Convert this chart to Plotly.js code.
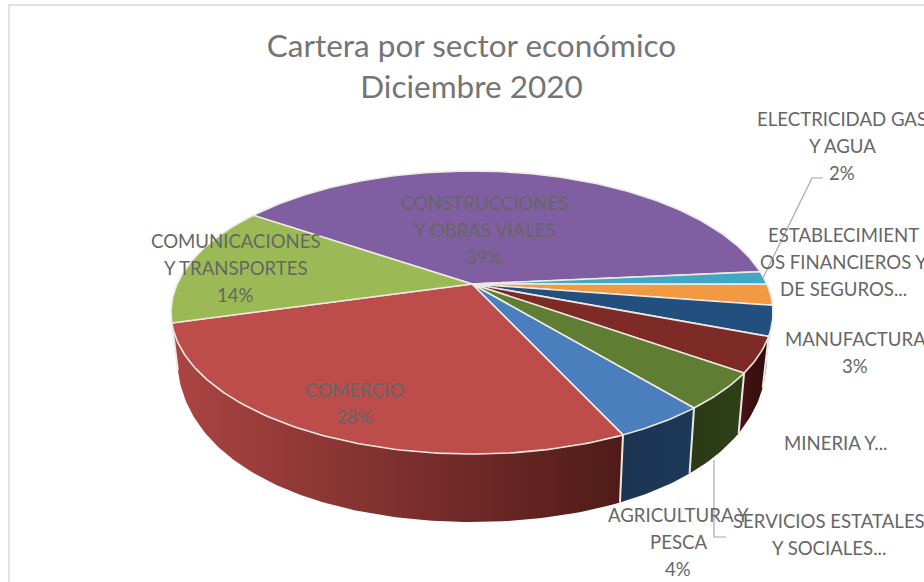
<!DOCTYPE html>
<html>
<head>
<meta charset="utf-8">
<script src="https://cdn.plot.ly/plotly-3.0.1.min.js"></script>
<style>html,body{margin:0;padding:0;background:#fff;overflow:hidden}#chart{width:924px;height:582px}</style>
</head>
<body>
<div id="chart"></div>
<script>
// Data, clockwise from the start of the first slice
const categories = ["CONSTRUCCIONES Y OBRAS VIALES","ELECTRICIDAD GAS Y AGUA","ESTABLECIMIENTOS FINANCIEROS Y DE SEGUROS","MANUFACTURA","MINERIA Y CANTERAS","SERVICIOS ESTATALES Y SOCIALES","AGRICULTURA Y PESCA","COMERCIO","COMUNICACIONES Y TRANSPORTES"];
const values = [39.0,1.5,2.4,3.4,4.0,4.2,4.1,27.5,13.9];
const labelTexts = [["CONSTRUCCIONES","Y OBRAS VIALES","39%"],["ELECTRICIDAD GAS","Y AGUA","2%"],["ESTABLECIMIENT","OS FINANCIEROS Y","DE SEGUROS..."],["MANUFACTURA","3%"],["MINERIA Y..."],["SERVICIOS ESTATALES","Y SOCIALES..."],["AGRICULTURA Y","PESCA","4%"],["COMERCIO","28%"],["COMUNICACIONES","Y TRANSPORTES","14%"]];

// Styles
const topColors = ["#7f5fa1","#3fa8c4","#f29a42","#234f7f","#7e2a27","#5f7d33","#4a7ebc","#bd4d4a","#9bba55"];
const wallStops = [null,null,null,["#6f8fae","#50708f"],["#4a1414","#2f0b0b"],["#2a3a14","#2f3f18"],["#1b3452","#1e3858"],["#ab4543","#4f1b18"],["#9a3c3a","#a23f3d"]];
const labelPos = [[484.5,230],[842,146],[843,262],[855,352],[836,443],[829,534],[678,542],[354,403],[235.5,268]];
const startAngle = 304.3, labelLineGap = 27;
const rimLine = "#efe9e3", textColor = "#666666", leaderColor = "#a6a6a6";

// Perspective projection of the pie disc on to the page
const P = {cx:472, c:284, a:294.8, b:-78.6, k:0.2014, shrink:0.98};
function rim(deg){
  const t = deg*Math.PI/180, u = Math.sin(t), v = Math.cos(t), D = 1+P.k*v;
  return [P.cx+P.a*u/D, (P.c+P.b*v)/D];
}
function lower(p){
  const d = 68-0.0012*Math.pow(454-p[1],2);
  return [P.cx+(p[0]-P.cx)*P.shrink, p[1]+d];
}
function arc(a0,a1){
  const pts=[], n=Math.max(2,Math.ceil(Math.abs(a1-a0)));
  for(let i=0;i<=n;i++) pts.push(rim(a0+(a1-a0)*i/n));
  return pts;
}

const total = values.reduce((s,v)=>s+v,0);
const edges = [startAngle];
values.forEach(v=>edges.push(edges[edges.length-1]+v/total*360));

const visibleFrom = 101.5, visibleTo = 258.5;
const traces = [];
const sepX=[], sepY=[];

// Side walls (only the near side of the disc is visible)
values.forEach((v,i)=>{
  const a0 = ((edges[i]%360)+360)%360, a1 = a0+(edges[i+1]-edges[i]);
  const lo = Math.max(a0,visibleFrom), hi = Math.min(a1,visibleTo);
  if(hi<=lo || !wallStops[i]) return;
  const top = arc(lo,hi), bot = top.map(lower).reverse(), poly = top.concat(bot);
  traces.push({type:"scatter",mode:"lines",x:poly.map(p=>p[0]),y:poly.map(p=>p[1]),fill:"toself",
    line:{width:0},hoverinfo:"skip",
    fillcolor:wallStops[i][0],
    fillgradient:{type:"horizontal",colorscale:[[0,wallStops[i][0]],[1,wallStops[i][1]]]}});
  if(a0>=visibleFrom && a0<=visibleTo){
    const p=rim(a0), q=lower(p);
    sepX.push(p[0],q[0],null); sepY.push(p[1],q[1],null);
  }
});
traces.push({type:"scatter",mode:"lines",x:sepX,y:sepY,line:{color:rimLine,width:2},hoverinfo:"skip"});

// Top faces
values.forEach((v,i)=>{
  const pts=[[P.cx,P.c]].concat(arc(edges[i],edges[i+1]),[[P.cx,P.c]]);
  traces.push({type:"scatter",mode:"lines",name:categories[i],x:pts.map(p=>p[0]),y:pts.map(p=>p[1]),
    fill:"toself",fillcolor:topColors[i],line:{color:rimLine,width:1.6},hoverinfo:"name"});
});

const annotations = [];
labelTexts.forEach((lines,i)=>lines.forEach((t,j)=>annotations.push({text:t,x:labelPos[i][0],
  y:labelPos[i][1]+(j-(lines.length-1)/2)*labelLineGap,xref:"x",yref:"y",
  xanchor:"center",yanchor:"middle",align:"center",showarrow:false,
  font:{family:"Lato, Carlito, sans-serif",size:18.6,color:textColor}})));

const shapes = [
  {type:"rect",xref:"x",yref:"y",x0:9,y0:5,x1:1000,y1:700,line:{color:"#d9d9d9",width:1.5},layer:"below"},
  {type:"path",xref:"x",yref:"y",path:"M763,278 L812,178 L823,178",line:{color:leaderColor,width:1.2}},
  {type:"path",xref:"x",yref:"y",path:"M714,460 L714,537 L726,537",line:{color:leaderColor,width:1.2}}
];

Plotly.newPlot("chart",traces,{
  width:924,height:582,margin:{l:0,r:0,t:0,b:0},showlegend:false,
  paper_bgcolor:"#fff",plot_bgcolor:"#fff",
  title:{text:"Cartera por sector económico<br>Diciembre 2020",x:471.5/924,xanchor:"center",y:1-57/582,yanchor:"middle",
    font:{family:"Lato, Carlito, sans-serif",size:31.5,color:"#757575"}},
  xaxis:{range:[0,924],visible:false,fixedrange:true},
  yaxis:{range:[582,0],visible:false,fixedrange:true},
  annotations,shapes
},{displayModeBar:false,staticPlot:true});
</script>
</body>
</html>
